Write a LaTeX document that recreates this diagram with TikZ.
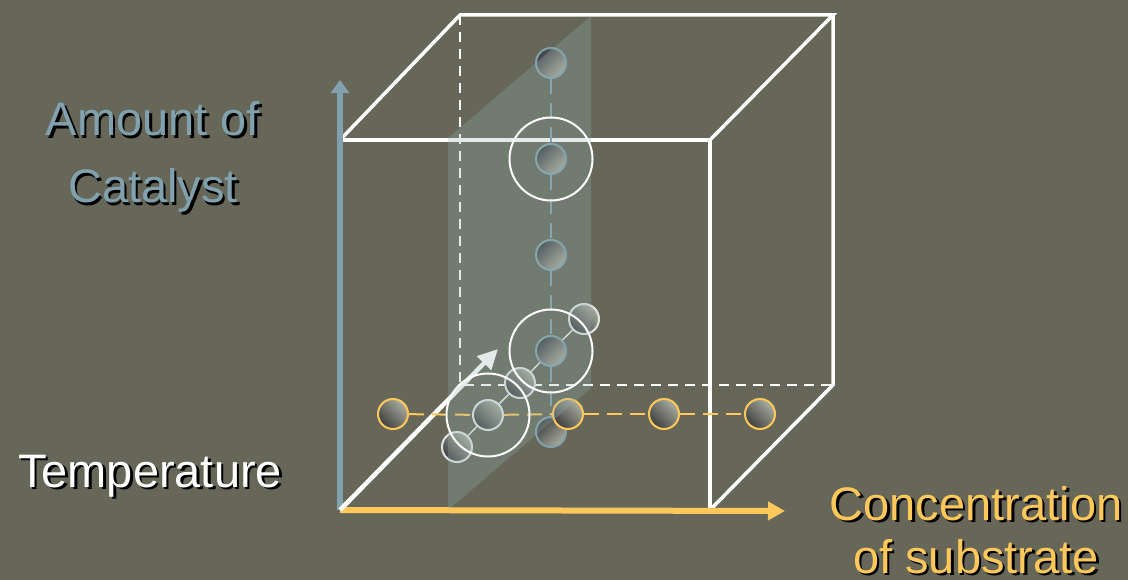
\documentclass[tikz,border=0pt]{standalone}
\usepackage{fontspec}
\setmainfont{Liberation Sans}
\usepackage{tikz}
\usetikzlibrary{arrows.meta,positioning,calc}
\usepackage{xcolor}

\definecolor{bgcol}{RGB}{102,103,88}
\definecolor{axisblue}{RGB}{128,161,173}
\definecolor{axisorange}{RGB}{255,200,90}
\definecolor{balldark}{RGB}{62,63,64}
\definecolor{ballight}{RGB}{170,173,158}
\definecolor{planecol}{RGB}{150,180,180}
\definecolor{ringgray}{RGB}{222,228,228}

\tikzset{
  edge/.style={white, line width=3.5pt},
  hidden/.style={white, line width=2pt, dash pattern=on 10pt off 7pt},
  ball/.style={circle, minimum size=30pt, inner sep=0pt, line width=2pt,
    top color=ballight, bottom color=balldark, shading angle=-45},
  blueball/.style={ball, draw=axisblue, top color=balldark, bottom color=ballight, shading angle=45},
  orangeball/.style={ball, draw=axisorange},
  grayball/.style={ball, draw=ringgray},
  halo/.style={circle, minimum size=83pt, inner sep=0pt, draw=white, line width=2pt},
  bigtext/.style={font=\fontsize{47}{67}\selectfont, align=center, anchor=base}
}

\begin{document}
\begin{tikzpicture}[auto, >=Stealth, x=1pt, y=-1pt]

  % Background
  \fill[bgcol] (0,0) rectangle (1128,580);
  \useasboundingbox (0,0) rectangle (1128,580);

  % Define coordinates for the cube corners
  \coordinate (F1) at (340,140);
  \coordinate (F2) at (710,140);
  \coordinate (F3) at (710,510);
  \coordinate (F4) at (340,510);
  \coordinate (B1) at (460,15);
  \coordinate (B2) at (833,15);
  \coordinate (B3) at (833,385);
  \coordinate (B4) at (460,385);
  \coordinate (ytip) at (340,80);
  \coordinate (xtip) at (785,511);
  \coordinate (ztip) at (498,349);

  % Draw the cube
  \draw[edge] (F1) -- (F2) -- (F3);
  \draw[edge] (F1) -- (B1) -- (B2) -- (F2);
  \draw[edge] (B2) -- (B3) -- (F3);
  \draw[hidden] (B1) -- (B4) -- (B3);

  % Draw the axes
  \draw[axisblue, line width=6pt, -{Triangle[length=13pt, width=18pt]}] (F4) -- (ytip);
  \draw[axisorange, line width=6pt, -{Triangle[length=17pt, width=18pt]}] (F4) -- (xtip);
  \draw[white, line width=4.5pt, -{Triangle[length=20pt, width=19pt]}] (F4) -- (ztip);

  % Define the sample points
  \node[blueball] (b1) at (551,63) {};
  \node[blueball] (b2) at (551,159) {};
  \node[blueball] (b3) at (551,255) {};
  \node[blueball] (b4) at (551,351) {};
  \node[blueball] (b5) at (551,432) {};
  \node[orangeball] (o1) at (393,414) {};
  \node[orangeball] (o3) at (664,414) {};
  \node[orangeball] (o4) at (760,414) {};
  \node[grayball] (d1) at (457,447) {};
  \node[grayball] (d2) at (488,415) {};
  \node[grayball] (d3) at (520,383) {};
  \node[grayball] (d4) at (584,319) {};
  \node[orangeball] (o2) at (568,414) {};

  % Draw lines between the points
  \draw[axisblue, line width=2pt, dash pattern=on 15pt off 9pt] (b1) -- (b2);
  \draw[axisblue, line width=2pt, dash pattern=on 15pt off 9pt] (b2) -- (b3);
  \draw[axisblue, line width=2pt, dash pattern=on 15pt off 9pt] (b3) -- (b4);
  \draw[axisblue, line width=2pt, dash pattern=on 15pt off 9pt] (b4) -- (b5);
  \draw[axisorange, line width=2pt, dash pattern=on 15pt off 8pt] (o1) -- (d2);
  \draw[axisorange, line width=2pt, dash pattern=on 15pt off 8pt] (d2) -- (o2);
  \draw[axisorange, line width=2pt, dash pattern=on 15pt off 8pt] (o2) -- (o3);
  \draw[axisorange, line width=2pt, dash pattern=on 15pt off 8pt] (o3) -- (o4);
  \draw[ringgray, line width=1.5pt] (d1) -- (d2);
  \draw[ringgray, line width=1.5pt] (d2) -- (d3);
  \draw[ringgray, line width=1.5pt] (d3) -- (b4);
  \draw[ringgray, line width=1.5pt] (b4) -- (d4);

  % Translucent plane
  \fill[planecol, opacity=0.27] (448,510) -- (448,138) -- (591,16) -- (591,388) -- cycle;

  % Halos round the chosen points
  \node[halo] (h1) at (b2) {};
  \node[halo] (h2) at (b4) {};
  \node[halo] (h3) at (d2) {};

  % Labels
  \node[bigtext, black] (catS) at (155.5,205.5) {Amount of\\Catalyst};
  \node[bigtext, axisblue] (cat) at (153,203) {Amount of\\Catalyst};
  \node[bigtext, black] (tempS) at (152.5,489.5) {Temperature};
  \node[bigtext, white] (temp) at (150,487) {Temperature};
  \node[bigtext, black, font=\fontsize{47}{53}\selectfont] (concS) at (978.5,575.5) {Concentration\\of substrate};
  \node[bigtext, axisorange, font=\fontsize{47}{53}\selectfont] (conc) at (976,573) {Concentration\\of substrate};
\end{tikzpicture}
\end{document}
